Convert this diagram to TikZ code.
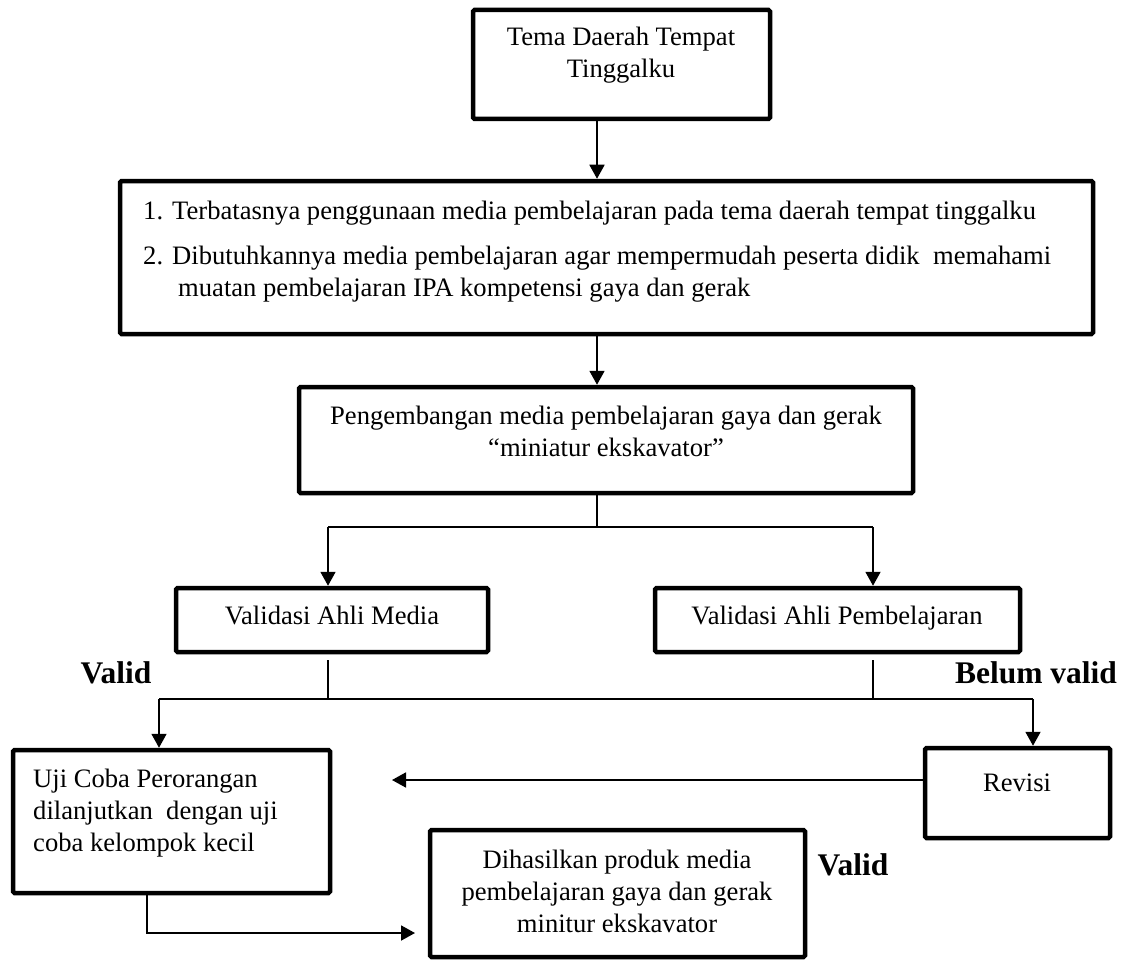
\documentclass[tikz,border=0pt]{standalone}
\usepackage{fontspec}
\setmainfont{Liberation Serif}
\usetikzlibrary{arrows.meta}
\begin{document}
\begin{tikzpicture}[x=1pt,y=-1pt]
\tikzstyle{kotak}=[draw=black, line width=4.5pt, rounded corners=1.5pt, inner sep=0]
\tikzstyle{teks}=[font=\fontsize{26.6}{32}\selectfont, inner sep=0]
\tikzstyle{tebal}=[font=\fontsize{31.5}{36}\selectfont\bfseries, inner sep=0]
\tikzstyle{panah}=[-{Triangle[length=14pt,width=15pt]}, line width=1.8pt]
\tikzstyle{garis}=[line width=1.8pt]
\useasboundingbox (0,0) rectangle (1123,960);
% kotak-kotak
\node[kotak, minimum width=297, minimum height=109] (tema) at (621.5,64.5){};
\node[kotak, minimum width=973, minimum height=153] (masalah) at (606.5,257.5){};
\node[kotak, minimum width=614, minimum height=106] (kembang) at (606,440){};
\node[kotak, minimum width=312, minimum height=64] (media) at (332,620){};
\node[kotak, minimum width=365, minimum height=64] (ahli) at (837.5,620){};
\node[kotak, minimum width=317, minimum height=143] (uji) at (171.5,821.5){};
\node[kotak, minimum width=185, minimum height=90] (revisi) at (1017.5,793){};
\node[kotak, minimum width=375, minimum height=127] (hasil) at (617.5,893.5){};
% teks
\node[teks, align=center] (temaTeks) at (621,55){Tema Daerah Tempat\\Tinggalku};
\node[teks, align=left, anchor=west] (masalahTeks) at (143,252){\makebox[29pt][l]{1.}Terbatasnya penggunaan media pembelajaran pada tema daerah tempat tinggalku\\[13pt]
\makebox[29pt][l]{2.}Dibutuhkannya media pembelajaran agar mempermudah peserta didik\ \ memahami\\
\hspace*{35pt}muatan pembelajaran IPA kompetensi gaya dan gerak};
\node[teks, align=center] (kembangTeks) at (606,431){Pengembangan media pembelajaran gaya dan gerak\\``miniatur ekskavator''};
\node[teks, anchor=base] (mediaTeks) at (332,624){Validasi Ahli Media};
\node[teks, anchor=base] (ahliTeks) at (837,624){Validasi Ahli Pembelajaran};
\node[teks, align=left, anchor=west] (ujiTeks) at (33,813){Uji Coba Perorangan\\dilanjutkan\ \ dengan uji\\coba kelompok kecil};
\node[teks] (revisiTeks) at (1017,783){Revisi};
\node[teks, align=center] (hasilTeks) at (617,891){Dihasilkan produk media\\pembelajaran gaya dan gerak\\minitur ekskavator};
\node[tebal] (valid1) at (116,673){Valid};
\node[tebal] (belum) at (1036,673){Belum valid};
\node[tebal] (valid2) at (853,865){Valid};
% titik bantu
\coordinate (tulang) at (597,0);
\coordinate (cabang) at (597,527);
\coordinate (cabangKiri) at (328,527);
\coordinate (cabangKanan) at (873,527);
\coordinate (stemKiri) at (328,660);
\coordinate (stemKanan) at (873,660);
\coordinate (validKiri) at (159,699);
\coordinate (validKanan) at (1033,699);
\coordinate (revisiMasuk) at (392,780);
\coordinate (belok) at (147,933);
\coordinate (hasilMasuk) at (415,933);
% panah
\draw[panah] (tema.south -| tulang) -- (masalah.north -| tulang);
\draw[panah] (masalah.south -| tulang) -- (kembang.north -| tulang);
\draw[garis] (kembang.south -| tulang) -- (cabang);
\draw[garis] (cabangKiri) -- (cabangKanan);
\draw[panah] (cabangKiri) -- (media.north -| cabangKiri);
\draw[panah] (cabangKanan) -- (ahli.north -| cabangKanan);
\draw[garis] (stemKiri) -- (stemKiri |- validKiri);
\draw[garis] (stemKanan) -- (stemKanan |- validKanan);
\draw[garis] (validKiri) -- (validKanan);
\draw[panah] (validKiri) -- (uji.north -| validKiri);
\draw[panah] (validKanan) -- (revisi.north -| validKanan);
\draw[panah] (revisi.west |- revisiMasuk) -- (revisiMasuk);
\draw[panah] (uji.south -| belok) |- (hasilMasuk);
\end{tikzpicture}
\end{document}
